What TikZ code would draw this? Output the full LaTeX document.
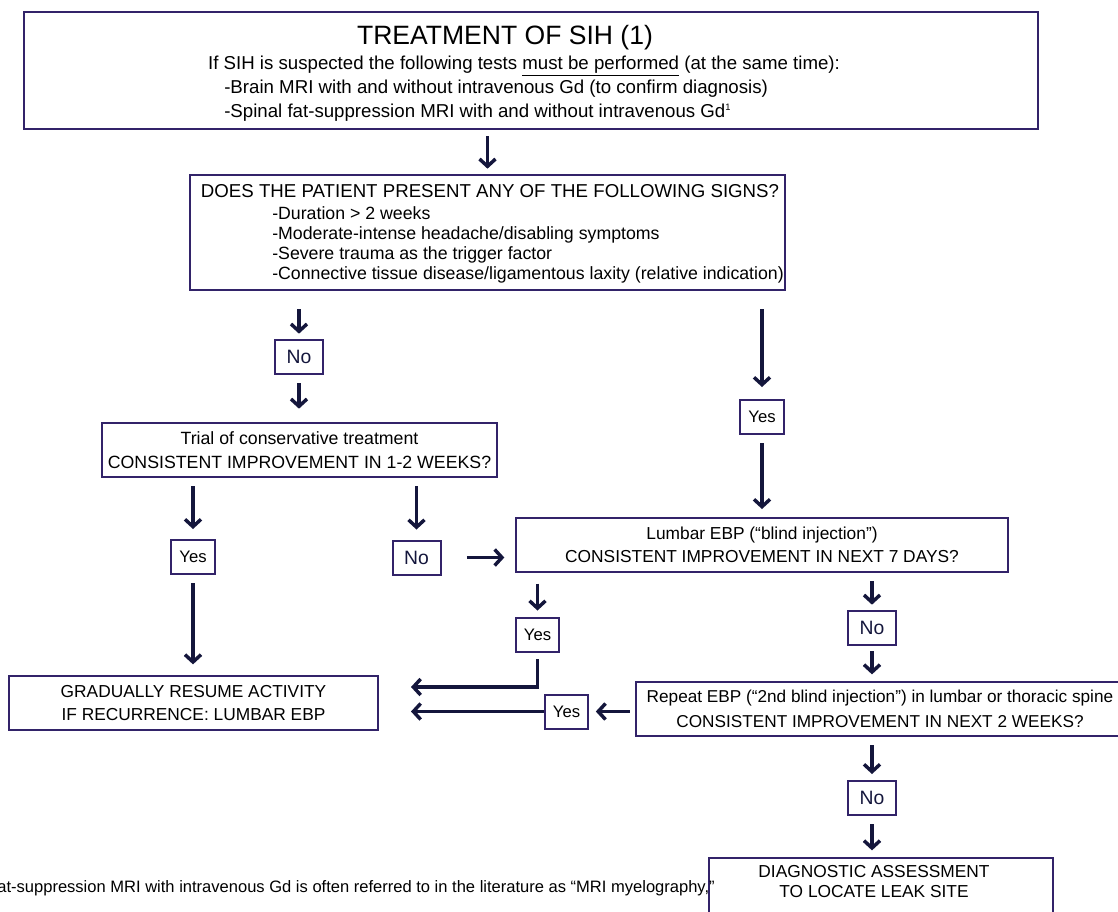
\documentclass[tikz,border=0pt]{standalone}
\usepackage{fontspec}
\setmainfont{Liberation Sans}
\definecolor{sihBox}{RGB}{50,35,105}
\definecolor{sihArrow}{RGB}{20,22,60}
\usetikzlibrary{arrows.meta}

\begin{document}
\begin{tikzpicture}[x=0.75pt, y=-0.75pt,
    box/.style={rectangle, draw=sihBox, line width=1.5pt, inner sep=0pt, align=center, font=\fontsize{13}{17.5}\selectfont},
    yesbox/.style={rectangle, draw=sihBox, line width=1.5pt, inner sep=0pt, minimum width=32.5pt, minimum height=25.5pt, font=\fontsize{12.5}{14}\selectfont},
    nobox/.style={yesbox, minimum width=36pt, text=sihArrow, font=\fontsize{14.5}{16}\selectfont},
    txt/.style={inner sep=0pt, font=\fontsize{14}{17.5}\selectfont},
    arrow/.style={-{Straight Barb[length=5.5pt, width=12pt]}, line width=2.6pt, sihArrow, shorten <=6pt, shorten >=5pt}
]
\useasboundingbox (0,0) rectangle (1118,911);

\node[box, minimum width=760.5pt, minimum height=87.75pt] (top) at (531,70.5) {};
\node[inner sep=0pt, font=\fontsize{19.9}{24}\selectfont] (title) at (505,38) {TREATMENT OF SIH (1)};
\node[txt] (tests) at (524,66) {If SIH is suspected the following tests \underline{must be performed} (at the same time):};
\node[txt, anchor=west] (brain) at (224,89) {-Brain MRI with and without intravenous Gd (to confirm diagnosis)};
\node[txt, anchor=west] (spinal) at (224,113) {-Spinal fat-suppression MRI with and without intravenous Gd{\fontsize{7}{7}\selectfont\raisebox{5.5pt}{1}}};

\node[box, minimum width=446.25pt, minimum height=86.25pt] (signs) at (487.5,232.5) {};
\node[txt] (question) at (490,191) {DOES THE PATIENT PRESENT ANY OF THE FOLLOWING SIGNS?};
\node[txt, anchor=north west, align=left, font=\fontsize{13.3}{15}\selectfont] (signlist) at (272,206) {-Duration > 2 weeks\\-Moderate-intense headache/disabling symptoms\\-Severe trauma as the trigger factor\\-Connective tissue disease/ligamentous laxity (relative indication)};

\node[nobox] (no1) at (299,357) {No};
\node[box, minimum width=296.25pt, minimum height=40.5pt, font=\fontsize{13.3}{17.5}\selectfont] (trial) at (299.5,450) {Trial of conservative treatment\\CONSISTENT IMPROVEMENT IN 1-2 WEEKS?};
\node[yesbox] (yes1) at (762,417) {Yes};
\node[box, minimum width=369pt, minimum height=40.5pt] (lumbar) at (762,545) {Lumbar EBP (“blind injection”)\\CONSISTENT IMPROVEMENT IN NEXT 7 DAYS?};
\node[yesbox] (yes2) at (193,557) {Yes};
\node[nobox] (no2) at (416.5,557.5) {No};
\node[box, minimum width=276.75pt, minimum height=40.5pt] (resume) at (193.5,703) {GRADUALLY RESUME ACTIVITY\\IF RECURRENCE: LUMBAR EBP};
\node[yesbox] (yes3) at (537.5,634.5) {Yes};
\node[nobox] (no3) at (872,628) {No};
\node[box, minimum width=366pt, minimum height=40.5pt, font=\fontsize{12.9}{18.5}\selectfont] (repeat) at (880,709) {Repeat EBP (“2nd blind injection”) in lumbar or thoracic spine\\CONSISTENT IMPROVEMENT IN NEXT 2 WEEKS?};
\node[yesbox] (yes4) at (566.5,711.5) {Yes};
\node[nobox] (no4) at (872,798) {No};
\node[box, minimum width=258pt, minimum height=60pt] (diag) at (881,898) {};
\node[txt, align=center, font=\fontsize{13}{15}\selectfont] (diaglbl) at (874,882) {DIAGNOSTIC ASSESSMENT\\TO LOCATE LEAK SITE};

\node[anchor=east, inner sep=0pt, font=\fontsize{12.4}{14}\selectfont] (footnote) at (715,888) {fat-suppression MRI with intravenous Gd is often referred to in the literature as “MRI myelography,”};

\draw[arrow, shorten <=4.5pt, shorten >=4pt] (top.south -| signs.north) -- (signs.north);
\draw[arrow, shorten <=13.5pt, shorten >=4pt] (signs.south -| no1) -- (no1.north);
\draw[arrow, shorten >=10pt] (no1.south) -- (trial.north -| no1);
\draw[arrow, shorten <=13.5pt, shorten >=9pt] (signs.south -| yes1) -- (yes1.north);
\draw[arrow, shorten >=6pt] (yes1.south) -- (lumbar.north -| yes1);
\draw[arrow, shorten >=7.5pt] (trial.south -| yes2) -- (yes2.north);
\draw[arrow, shorten >=8pt] (yes2.south) -- (resume.north -| yes2);
\draw[arrow, shorten >=7.5pt] (trial.south -| no2) -- (no2.north);
\draw[arrow, shorten <=19pt, shorten >=8pt] (no2.east) -- (no2 -| lumbar.west);
\draw[arrow, shorten <=8pt, shorten >=4.5pt] (lumbar.south -| yes3) -- (yes3.north);
\draw[arrow, shorten <=5pt, shorten >=24pt] (yes3.south) |- ([yshift=12pt]resume.east);
\draw[arrow, shorten >=4pt] (lumbar.south -| no3) -- (no3.north);
\draw[arrow, shorten <=4pt] (no3.south) -- (repeat.north -| no3);
\draw[arrow, shorten <=4pt] (repeat.west |- yes4) -- (yes4.east);
\draw[arrow, shorten <=0pt, shorten >=24pt] (yes4.west) -- (yes4 -| resume.east);
\draw[arrow, shorten >=4.5pt] (repeat.south -| no4) -- (no4.north);
\draw[arrow] (no4.south) -- (diag.north -| no4);
\end{tikzpicture}
\end{document}
